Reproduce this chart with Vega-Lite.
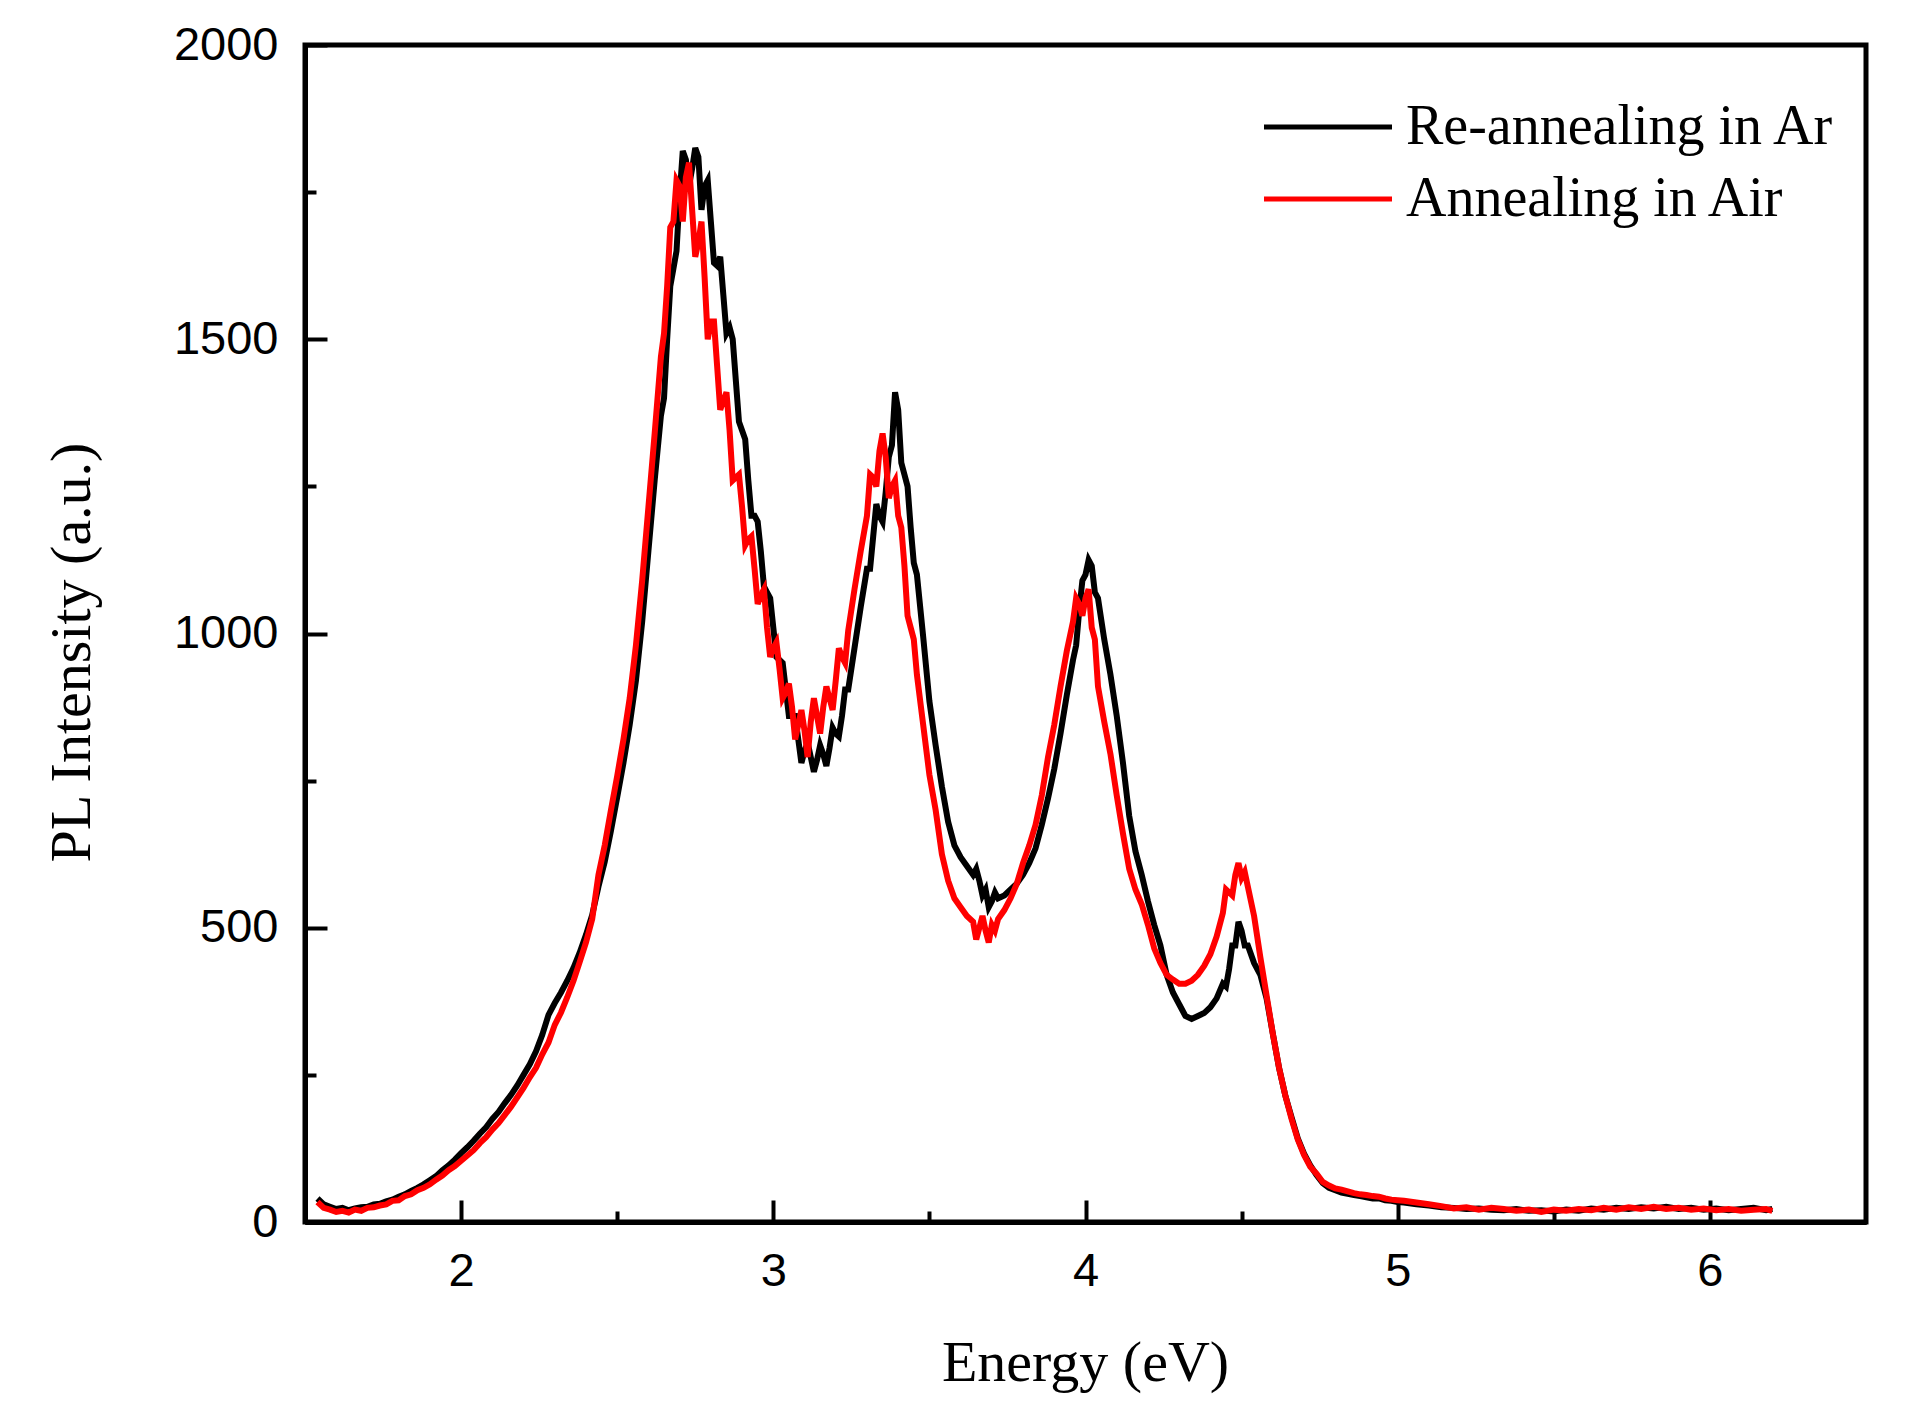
{
  "$schema": "https://vega.github.io/schema/vega-lite/v6.json",
  "width": 1561,
  "height": 1177,
  "autosize": {"type": "none"},
  "padding": {"left": 305, "top": 45, "right": 48, "bottom": 201},
  "background": "white",
  "data": {
    "values": [
      {"e": 1.54, "ar": 40, "air": 34}, {"e": 1.56, "ar": 30, "air": 24}, {"e": 1.58, "ar": 26, "air": 21},
      {"e": 1.60, "ar": 22, "air": 17}, {"e": 1.62, "ar": 24, "air": 19}, {"e": 1.64, "ar": 20, "air": 16},
      {"e": 1.66, "ar": 23, "air": 21}, {"e": 1.68, "ar": 25, "air": 19}, {"e": 1.70, "ar": 26, "air": 24},
      {"e": 1.72, "ar": 30, "air": 25}, {"e": 1.74, "ar": 31, "air": 28}, {"e": 1.76, "ar": 35, "air": 30},
      {"e": 1.78, "ar": 38, "air": 36}, {"e": 1.80, "ar": 43, "air": 37}, {"e": 1.82, "ar": 47, "air": 44},
      {"e": 1.84, "ar": 53, "air": 47}, {"e": 1.86, "ar": 58, "air": 54}, {"e": 1.88, "ar": 64, "air": 58},
      {"e": 1.90, "ar": 71, "air": 64}, {"e": 1.92, "ar": 78, "air": 72}, {"e": 1.94, "ar": 88, "air": 79},
      {"e": 1.96, "ar": 96, "air": 88}, {"e": 1.98, "ar": 106, "air": 95}, {"e": 2.00, "ar": 117, "air": 104},
      {"e": 2.02, "ar": 127, "air": 113}, {"e": 2.04, "ar": 138, "air": 122}, {"e": 2.06, "ar": 150, "air": 134},
      {"e": 2.08, "ar": 161, "air": 144}, {"e": 2.10, "ar": 175, "air": 157}, {"e": 2.12, "ar": 187, "air": 168},
      {"e": 2.14, "ar": 202, "air": 182}, {"e": 2.16, "ar": 216, "air": 196}, {"e": 2.18, "ar": 232, "air": 212},
      {"e": 2.20, "ar": 250, "air": 228}, {"e": 2.22, "ar": 268, "air": 246}, {"e": 2.24, "ar": 290, "air": 262},
      {"e": 2.26, "ar": 318, "air": 285}, {"e": 2.28, "ar": 352, "air": 305}, {"e": 2.30, "ar": 372, "air": 335},
      {"e": 2.32, "ar": 390, "air": 356}, {"e": 2.34, "ar": 410, "air": 382}, {"e": 2.36, "ar": 432, "air": 410},
      {"e": 2.38, "ar": 458, "air": 442}, {"e": 2.40, "ar": 488, "air": 475}, {"e": 2.42, "ar": 522, "air": 515},
      {"e": 2.44, "ar": 570, "air": 590}, {"e": 2.46, "ar": 612, "air": 640}, {"e": 2.48, "ar": 665, "air": 700},
      {"e": 2.50, "ar": 722, "air": 758}, {"e": 2.52, "ar": 780, "air": 820}, {"e": 2.54, "ar": 845, "air": 890},
      {"e": 2.56, "ar": 920, "air": 980}, {"e": 2.58, "ar": 1020, "air": 1090}, {"e": 2.60, "ar": 1140, "air": 1215},
      {"e": 2.62, "ar": 1260, "air": 1340}, {"e": 2.64, "ar": 1370, "air": 1470}, {"e": 2.65, "ar": 1400, "air": 1510},
      {"e": 2.66, "ar": 1500, "air": 1590}, {"e": 2.67, "ar": 1590, "air": 1690}, {"e": 2.68, "ar": 1620, "air": 1700},
      {"e": 2.69, "ar": 1650, "air": 1770}, {"e": 2.70, "ar": 1745, "air": 1760}, {"e": 2.71, "ar": 1820, "air": 1700},
      {"e": 2.72, "ar": 1805, "air": 1775}, {"e": 2.73, "ar": 1760, "air": 1800}, {"e": 2.74, "ar": 1790, "air": 1720},
      {"e": 2.75, "ar": 1825, "air": 1640}, {"e": 2.76, "ar": 1810, "air": 1665}, {"e": 2.77, "ar": 1720, "air": 1700},
      {"e": 2.78, "ar": 1760, "air": 1605}, {"e": 2.79, "ar": 1770, "air": 1500}, {"e": 2.80, "ar": 1700, "air": 1530},
      {"e": 2.81, "ar": 1630, "air": 1530}, {"e": 2.82, "ar": 1625, "air": 1455}, {"e": 2.83, "ar": 1640, "air": 1380},
      {"e": 2.84, "ar": 1575, "air": 1395}, {"e": 2.85, "ar": 1510, "air": 1410}, {"e": 2.86, "ar": 1520, "air": 1345},
      {"e": 2.87, "ar": 1500, "air": 1260}, {"e": 2.88, "ar": 1430, "air": 1265}, {"e": 2.89, "ar": 1360, "air": 1270},
      {"e": 2.90, "ar": 1345, "air": 1215}, {"e": 2.91, "ar": 1330, "air": 1150}, {"e": 2.92, "ar": 1260, "air": 1160},
      {"e": 2.93, "ar": 1200, "air": 1165}, {"e": 2.94, "ar": 1200, "air": 1110}, {"e": 2.95, "ar": 1190, "air": 1050},
      {"e": 2.96, "ar": 1140, "air": 1065}, {"e": 2.97, "ar": 1080, "air": 1075}, {"e": 2.98, "ar": 1070, "air": 1010},
      {"e": 2.99, "ar": 1060, "air": 960}, {"e": 3.00, "ar": 1010, "air": 975}, {"e": 3.01, "ar": 960, "air": 985},
      {"e": 3.02, "ar": 955, "air": 940}, {"e": 3.03, "ar": 950, "air": 890}, {"e": 3.04, "ar": 905, "air": 900},
      {"e": 3.05, "ar": 860, "air": 915}, {"e": 3.06, "ar": 860, "air": 875}, {"e": 3.07, "ar": 860, "air": 820},
      {"e": 3.08, "ar": 820, "air": 845}, {"e": 3.09, "ar": 780, "air": 870}, {"e": 3.10, "ar": 800, "air": 835},
      {"e": 3.11, "ar": 815, "air": 790}, {"e": 3.12, "ar": 790, "air": 850}, {"e": 3.13, "ar": 765, "air": 890},
      {"e": 3.14, "ar": 785, "air": 860}, {"e": 3.15, "ar": 810, "air": 830}, {"e": 3.16, "ar": 795, "air": 875},
      {"e": 3.17, "ar": 775, "air": 910}, {"e": 3.18, "ar": 805, "air": 890}, {"e": 3.19, "ar": 840, "air": 870},
      {"e": 3.20, "ar": 830, "air": 920}, {"e": 3.21, "ar": 825, "air": 975}, {"e": 3.22, "ar": 860, "air": 960},
      {"e": 3.23, "ar": 905, "air": 950}, {"e": 3.24, "ar": 905, "air": 1005}, {"e": 3.26, "ar": 975, "air": 1075},
      {"e": 3.28, "ar": 1045, "air": 1140}, {"e": 3.30, "ar": 1110, "air": 1200}, {"e": 3.31, "ar": 1110, "air": 1270},
      {"e": 3.32, "ar": 1165, "air": 1265}, {"e": 3.33, "ar": 1220, "air": 1250}, {"e": 3.34, "ar": 1200, "air": 1310},
      {"e": 3.35, "ar": 1190, "air": 1340}, {"e": 3.36, "ar": 1240, "air": 1300}, {"e": 3.37, "ar": 1300, "air": 1230},
      {"e": 3.38, "ar": 1320, "air": 1250}, {"e": 3.39, "ar": 1410, "air": 1260}, {"e": 3.40, "ar": 1380, "air": 1200},
      {"e": 3.41, "ar": 1290, "air": 1180}, {"e": 3.42, "ar": 1270, "air": 1115}, {"e": 3.43, "ar": 1250, "air": 1030},
      {"e": 3.44, "ar": 1180, "air": 1010}, {"e": 3.45, "ar": 1120, "air": 990}, {"e": 3.46, "ar": 1100, "air": 930},
      {"e": 3.48, "ar": 995, "air": 845}, {"e": 3.50, "ar": 885, "air": 760},
      {"e": 3.52, "ar": 810, "air": 700}, {"e": 3.54, "ar": 740, "air": 625}, {"e": 3.56, "ar": 680, "air": 580},
      {"e": 3.58, "ar": 640, "air": 550}, {"e": 3.60, "ar": 620, "air": 535}, {"e": 3.62, "ar": 605, "air": 520},
      {"e": 3.64, "ar": 590, "air": 510}, {"e": 3.65, "ar": 600, "air": 480}, {"e": 3.66, "ar": 580, "air": 500},
      {"e": 3.67, "ar": 555, "air": 520}, {"e": 3.68, "ar": 565, "air": 495}, {"e": 3.69, "ar": 535, "air": 475},
      {"e": 3.70, "ar": 545, "air": 505}, {"e": 3.71, "ar": 560, "air": 495}, {"e": 3.72, "ar": 550, "air": 515},
      {"e": 3.74, "ar": 555, "air": 530},
      {"e": 3.76, "ar": 565, "air": 550}, {"e": 3.78, "ar": 575, "air": 575}, {"e": 3.80, "ar": 590, "air": 610},
      {"e": 3.82, "ar": 610, "air": 640}, {"e": 3.84, "ar": 635, "air": 675}, {"e": 3.86, "ar": 675, "air": 725},
      {"e": 3.88, "ar": 720, "air": 790}, {"e": 3.90, "ar": 770, "air": 845}, {"e": 3.92, "ar": 830, "air": 910},
      {"e": 3.94, "ar": 895, "air": 970}, {"e": 3.96, "ar": 955, "air": 1020}, {"e": 3.97, "ar": 980, "air": 1060},
      {"e": 3.98, "ar": 1040, "air": 1050}, {"e": 3.99, "ar": 1090, "air": 1030}, {"e": 4.00, "ar": 1100, "air": 1060},
      {"e": 4.01, "ar": 1125, "air": 1075}, {"e": 4.02, "ar": 1115, "air": 1010}, {"e": 4.03, "ar": 1070, "air": 990},
      {"e": 4.04, "ar": 1060, "air": 910},
      {"e": 4.06, "ar": 990, "air": 850}, {"e": 4.08, "ar": 930, "air": 795}, {"e": 4.10, "ar": 860, "air": 725},
      {"e": 4.12, "ar": 780, "air": 660}, {"e": 4.14, "ar": 690, "air": 600}, {"e": 4.16, "ar": 630, "air": 565},
      {"e": 4.18, "ar": 590, "air": 540}, {"e": 4.20, "ar": 545, "air": 505}, {"e": 4.22, "ar": 505, "air": 465},
      {"e": 4.24, "ar": 470, "air": 440}, {"e": 4.26, "ar": 420, "air": 420}, {"e": 4.28, "ar": 390, "air": 412},
      {"e": 4.30, "ar": 370, "air": 405}, {"e": 4.32, "ar": 350, "air": 405}, {"e": 4.34, "ar": 345, "air": 410},
      {"e": 4.36, "ar": 350, "air": 420}, {"e": 4.38, "ar": 355, "air": 435}, {"e": 4.40, "ar": 365, "air": 455},
      {"e": 4.42, "ar": 380, "air": 485}, {"e": 4.44, "ar": 405, "air": 525}, {"e": 4.45, "ar": 400, "air": 565},
      {"e": 4.46, "ar": 430, "air": 560}, {"e": 4.47, "ar": 470, "air": 555}, {"e": 4.48, "ar": 470, "air": 590},
      {"e": 4.49, "ar": 510, "air": 610}, {"e": 4.50, "ar": 495, "air": 585}, {"e": 4.51, "ar": 470, "air": 595},
      {"e": 4.52, "ar": 470, "air": 570},
      {"e": 4.54, "ar": 440, "air": 520}, {"e": 4.56, "ar": 420, "air": 450}, {"e": 4.58, "ar": 380, "air": 385},
      {"e": 4.60, "ar": 320, "air": 320}, {"e": 4.62, "ar": 262, "air": 262}, {"e": 4.64, "ar": 215, "air": 215},
      {"e": 4.66, "ar": 178, "air": 175}, {"e": 4.68, "ar": 142, "air": 140}, {"e": 4.70, "ar": 116, "air": 114},
      {"e": 4.72, "ar": 96, "air": 94}, {"e": 4.74, "ar": 80, "air": 82}, {"e": 4.76, "ar": 66, "air": 68},
      {"e": 4.78, "ar": 58, "air": 62}, {"e": 4.80, "ar": 54, "air": 57}, {"e": 4.82, "ar": 50, "air": 55},
      {"e": 4.84, "ar": 48, "air": 52}, {"e": 4.86, "ar": 46, "air": 49}, {"e": 4.88, "ar": 44, "air": 47},
      {"e": 4.90, "ar": 42, "air": 46}, {"e": 4.92, "ar": 40, "air": 44}, {"e": 4.94, "ar": 40, "air": 43},
      {"e": 4.96, "ar": 37, "air": 40}, {"e": 4.98, "ar": 36, "air": 38}, {"e": 5.00, "ar": 34, "air": 37},
      {"e": 5.02, "ar": 33, "air": 36}, {"e": 5.06, "ar": 30, "air": 33}, {"e": 5.10, "ar": 28, "air": 30},
      {"e": 5.14, "ar": 25, "air": 27}, {"e": 5.18, "ar": 24, "air": 23}, {"e": 5.22, "ar": 22, "air": 25},
      {"e": 5.26, "ar": 23, "air": 21}, {"e": 5.30, "ar": 21, "air": 24}, {"e": 5.34, "ar": 20, "air": 22},
      {"e": 5.38, "ar": 22, "air": 19}, {"e": 5.42, "ar": 19, "air": 21}, {"e": 5.46, "ar": 20, "air": 17},
      {"e": 5.50, "ar": 18, "air": 21}, {"e": 5.54, "ar": 21, "air": 19}, {"e": 5.58, "ar": 19, "air": 22},
      {"e": 5.62, "ar": 23, "air": 20}, {"e": 5.66, "ar": 21, "air": 24}, {"e": 5.70, "ar": 24, "air": 21},
      {"e": 5.74, "ar": 22, "air": 25}, {"e": 5.78, "ar": 25, "air": 22}, {"e": 5.82, "ar": 23, "air": 26},
      {"e": 5.86, "ar": 26, "air": 22}, {"e": 5.90, "ar": 22, "air": 24}, {"e": 5.94, "ar": 24, "air": 21},
      {"e": 5.98, "ar": 21, "air": 23}, {"e": 6.02, "ar": 23, "air": 20}, {"e": 6.06, "ar": 20, "air": 22},
      {"e": 6.10, "ar": 22, "air": 19}, {"e": 6.14, "ar": 24, "air": 21}, {"e": 6.18, "ar": 20, "air": 22},
      {"e": 6.20, "ar": 22, "air": 19}
    ]
  },
  "layer": [
    {
      "mark": {"type": "line", "strokeWidth": 6, "color": "black"},
      "encoding": {
        "x": {
          "field": "e", "type": "quantitative",
          "scale": {"domain": [1.5, 6.5], "nice": false, "zero": false},
          "axis": {
            "orient": "bottom", "values": [2, 3, 4, 5, 6], "format": "d",
            "tickSize": -22, "labelPadding": 48,
            "title": "Energy (eV)", "titleX": 780, "titleY": 158,
            "titleAlign": "center", "titleBaseline": "alphabetic"
          }
        },
        "y": {
          "field": "ar", "type": "quantitative",
          "scale": {"domain": [0, 2000], "nice": false},
          "axis": {
            "orient": "left", "values": [0, 500, 1000, 1500, 2000], "format": "d",
            "tickSize": -22, "labelPadding": 49,
            "title": "PL Intensity (a.u.)", "titleX": -216, "titleY": 607,
            "titleAngle": -90, "titleAlign": "center", "titleBaseline": "alphabetic"
          }
        },
        "color": {
          "datum": "Re-annealing in Ar", "type": "nominal",
          "scale": {"domain": ["Re-annealing in Ar", "Annealing in Air"], "range": ["#000000", "#ff0000"]},
          "legend": {
            "title": null, "orient": "none", "legendX": 995, "legendY": 54,
            "padding": 0, "symbolType": "M-6.4,0H6.4", "symbolSize": 400, "symbolStrokeWidth": 5,
            "labelFont": "Liberation Serif", "labelFontSize": 56, "labelColor": "black",
            "labelLimit": 1000, "labelOffset": 50, "rowPadding": 16
          }
        }
      }
    },
    {
      "mark": {"type": "line", "strokeWidth": 6, "color": "#ff0000"},
      "encoding": {
        "x": {
          "field": "e", "type": "quantitative",
          "axis": {"orient": "bottom", "values": [2.5, 3.5, 4.5, 5.5], "labels": false, "tickSize": -11, "title": null}
        },
        "y": {
          "field": "air", "type": "quantitative",
          "axis": {"orient": "left", "values": [250, 750, 1250, 1750], "labels": false, "tickSize": -11, "title": null}
        },
        "color": {"datum": "Annealing in Air", "type": "nominal"}
      }
    }
  ],
  "resolve": {"axis": {"x": "independent", "y": "independent"}},
  "config": {
    "view": {"stroke": "black", "strokeWidth": 5},
    "axis": {
      "grid": false, "domainColor": "black", "domainWidth": 5,
      "tickColor": "black", "tickWidth": 4,
      "labelFont": "Liberation Sans", "labelFontSize": 47, "labelColor": "black",
      "titleFont": "Liberation Serif", "titleFontSize": 58, "titleFontWeight": "normal", "titleColor": "black"
    }
  }
}
